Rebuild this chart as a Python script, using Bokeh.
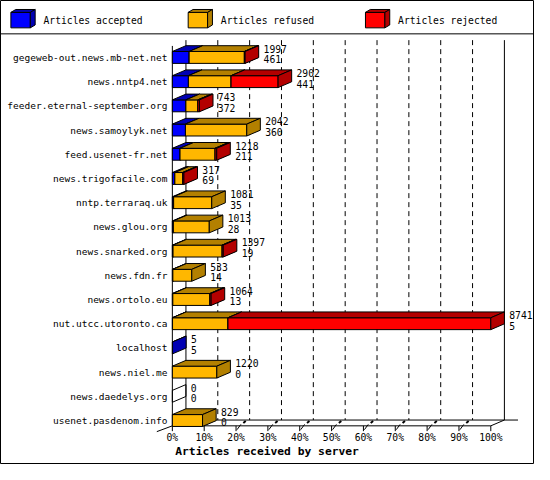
from bokeh.plotting import figure
from bokeh.models import Range1d, ColumnDataSource
from bokeh.core.properties import value
from bokeh.embed import file_html
from bokeh.resources import INLINE

servers = ["gegeweb-out.news.mb-net.net", "news.nntp4.net", "feeder.eternal-september.org",
           "news.samoylyk.net", "feed.usenet-fr.net", "news.trigofacile.com", "nntp.terraraq.uk",
           "news.glou.org", "news.snarked.org", "news.fdn.fr", "news.ortolo.eu",
           "nut.utcc.utoronto.ca", "localhost", "news.niel.me", "news.daedelys.org",
           "usenet.pasdenom.info"]
totals = [1997, 2902, 743, 2042, 1218, 317, 1081, 1013, 1397, 533, 1064, 8741, 5, 1220, 0, 829]
accepted = [461, 441, 372, 360, 211, 69, 35, 28, 19, 14, 13, 5, 5, 0, 0, 0]
refused = [1516, 1171, 329, 1682, 962, 216, 1046, 985, 1348, 519, 1018, 1522, 0, 1220, 0, 829]
rejected = [20, 1290, 42, 0, 45, 32, 0, 0, 30, 0, 33, 7214, 0, 0, 0, 0]

legend_labels = ["Articles accepted", "Articles refused", "Articles rejected"]
tick_labels = ["0%", "10%", "20%", "30%", "40%", "50%", "60%", "70%", "80%", "90%", "100%"]
axis_title = "Articles received by server"

front_colors = ["#0000FF", "#FFB700", "#FF0000"]
dark_colors = ["#0000B3", "#B38000", "#B30000"]
FONT = value("DejaVu Sans Mono")
FS = "9.7px"

# layout of the original 550x480 image, in its pixels
X0, PX_PER_PCT = 177, 3.28      # 0% of the front axis, pixels per percent
ROW0, ROW_PX = 58.9, 25.04      # centre of first row, row spacing
DEPTH_X, DEPTH_Y = 14, 6        # 3d depth
BAR_H = 12.3


def fx(px):
    return (px - X0) / PX_PER_PCT


def fy(py):
    return (py - ROW0) / ROW_PX


dxd = DEPTH_X / PX_PER_PCT
dyd = -DEPTH_Y / ROW_PX
hh = BAR_H / 2 / ROW_PX

p = figure(width=534, height=464, x_range=Range1d(fx(0), fx(550)), y_range=Range1d(fy(480), fy(0)),
           x_axis_type=None, y_axis_type=None, output_backend="svg", toolbar_location=None,
           min_border=0, background_fill_color="white", border_fill_color="white")
p.grid.visible = False
p.outline_line_color = "black"
p.outline_line_width = 1

# legend strip
p.segment(fx(0), fy(34.5), fx(550), fy(34.5), line_color="black", line_width=1)
leg_xs, leg_ys, leg_fill = [], [], []
for j, lab in enumerate(legend_labels):
    l, r = fx(10.7 + 182.6 * j), fx(30.7 + 182.6 * j)
    t, b = fy(12.3), fy(28.3)
    ddx, ddy = 5 / PX_PER_PCT, -3 / ROW_PX
    leg_xs += [[l, r, r, l], [l, r, r + ddx, l + ddx], [r, r + ddx, r + ddx, r]]
    leg_ys += [[t, t, b, b], [t, t, t + ddy, t + ddy], [t, t + ddy, b + ddy, b]]
    leg_fill += [front_colors[j], dark_colors[j], dark_colors[j]]
p.patches(leg_xs, leg_ys, fill_color=leg_fill, line_color="black", line_width=1)
p.text([fx(44.3 + 182.6 * j) for j in range(3)], [fy(20.7)] * 3, text=legend_labels,
       text_font=FONT, text_font_size=FS, text_align="left", text_baseline="middle")

# back walls, grid and floor
y_top, y_floor_back, y_floor = fy(41), fy(434), fy(440)
grid_x = [10 * k + dxd for k in range(1, 10)]
p.segment(grid_x, [y_top] * 9, grid_x, [y_floor_back] * 9, line_color="black", line_dash="5 4")
p.segment([dxd, 100 + dxd], [y_top] * 2, [dxd, 100 + dxd], [y_floor_back] * 2, line_color="black")
p.segment(dxd, y_floor_back, 100 + 2 * dxd, y_floor_back, line_color="black")
p.segment(0, fy(47), 0, y_floor, line_color="black")
p.segment(0, y_floor, 100, y_floor, line_color="black")
p.segment(100, y_floor, 100 + dxd, y_floor_back, line_color="black")
p.segment(-16 / PX_PER_PCT, y_floor - dyd, 0, y_floor, line_color="black")

tick_x = [10 * k for k in range(11)]
p.segment(tick_x, [y_floor] * 11, tick_x, [fy(445.5)] * 11, line_color="black")
sl = [10 * k for k in range(2, 10)]
p.segment([x + 1 / PX_PER_PCT for x in sl], [fy(444)] * 8, [x + 5 / PX_PER_PCT for x in sl], [fy(438.5)] * 8,
          line_color="black")
p.segment([x + 7.5 / PX_PER_PCT for x in sl], [fy(437)] * 8, [x + 10 / PX_PER_PCT for x in sl], [fy(435)] * 8,
          line_color="black", line_width=2)

# 3d stacked bars
max_total = max(totals)
bx, by, bfill, balpha = [], [], [], []
for i in range(len(servers)):
    top, bot = i - hh, i + hh
    left = 0.0
    if totals[i] == 0:
        bx.append([0, dxd, dxd, 0])
        by.append([top, top + dyd, bot + dyd, bot])
        bfill.append("white")
        balpha.append(0.0)
    for v, fc, dc in zip([accepted[i], refused[i], rejected[i]], front_colors, dark_colors):
        if v <= 0:
            continue
        right = left + v * 100 / max_total
        bx += [[left, right, right, left], [left, right, right + dxd, left + dxd],
               [right, right + dxd, right + dxd, right]]
        by += [[top, top, bot, bot], [top, top, top + dyd, top + dyd], [top, top + dyd, bot + dyd, bot]]
        bfill += [fc, dc, dc]
        balpha += [1.0, 1.0, 1.0]
        left = right

src = ColumnDataSource(dict(xs=bx, ys=by, fill=bfill, alpha=balpha))
p.patches("xs", "ys", fill_color="fill", fill_alpha="alpha", line_color="black", line_width=1, source=src)

# value labels
lab_x = [t * 100 / max_total + 19 / PX_PER_PCT for t in totals]
rows = list(range(len(servers)))
p.text(lab_x, [r - 9 / ROW_PX for r in rows], text=[str(t) for t in totals],
       text_font=FONT, text_font_size=FS, text_align="left", text_baseline="middle")
p.text(lab_x, [r + 2 / ROW_PX for r in rows], text=[str(a) for a in accepted],
       text_font=FONT, text_font_size=FS, text_align="left", text_baseline="middle")

# category labels
p.text([fx(172)] * len(servers), rows, text=servers,
       text_font=FONT, text_font_size="9.5px", text_align="right", text_baseline="middle")

# x tick labels and title
p.text(tick_x, [fy(452)] * 11, text=tick_labels,
       text_font=FONT, text_font_size=FS, text_align="center", text_baseline="middle")
p.text([fx(180)], [fy(467)], text=[axis_title], text_font=FONT, text_font_size="11.3px",
       text_font_style="bold", text_align="left", text_baseline="middle")

open("out.html", "w").write(file_html(p, INLINE))
